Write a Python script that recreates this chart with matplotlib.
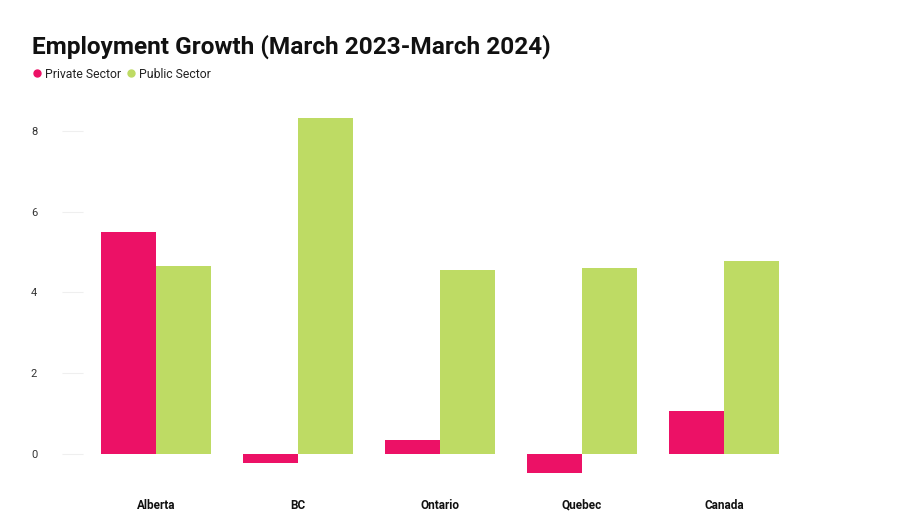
import matplotlib.pyplot as plt
import numpy as np
from matplotlib.lines import Line2D

regions = ["Alberta", "BC", "Ontario", "Quebec", "Canada"]
private_sector = [5.5, -0.22, 0.35, -0.47, 1.06]
public_sector = [4.65, 8.32, 4.55, 4.6, 4.78]

PINK = "#EC1166"
GREEN = "#BEDB64"

plt.rcParams["font.family"] = ["Roboto", "DejaVu Sans"]

fig = plt.figure(figsize=(9.24, 5.19), dpi=100)
ax = fig.add_axes([83 / 924, 1 - 478 / 519, (880 - 83) / 924, (478 - 111) / 519])

x = np.arange(len(regions))
w = 0.387
ax.bar(x - w / 2, private_sector, width=w, color=PINK)
ax.bar(x + w / 2, public_sector, width=w, color=GREEN)

ax.set_xlim(-0.514, 5.1)
ax.set_ylim(-0.6, 8.5)
ax.set_yticks([0, 2, 4, 6, 8])
ax.set_xticks(x)
ax.set_xticklabels(regions, fontweight="bold", fontsize=8.5, color="#111111")
ax.tick_params(axis="x", length=0, pad=15)
ax.tick_params(axis="y", length=15, width=0.8, color="#efefef", labelsize=8,
               labelcolor="#333333", pad=18)
for s in ax.spines.values():
    s.set_visible(False)

fig.text(32 / 924, 1 - 47 / 519, "Employment Growth (March 2023-March 2024)",
         fontsize=17.6, fontweight="bold", va="center", ha="left", color="#111111")

handles = [
    Line2D([], [], marker="o", linestyle="", color=PINK, markersize=5),
    Line2D([], [], marker="o", linestyle="", color=GREEN, markersize=5),
]
fig.legend(handles, ["Private Sector", "Public Sector"], loc="center left",
           bbox_to_anchor=(20 / 924, 1 - 74 / 519), ncol=2, frameon=False,
           fontsize=8.8, handletextpad=0.12, columnspacing=0.35, handlelength=1.0,
           labelcolor="#222222")

fig.savefig("out.png", dpi=100)
